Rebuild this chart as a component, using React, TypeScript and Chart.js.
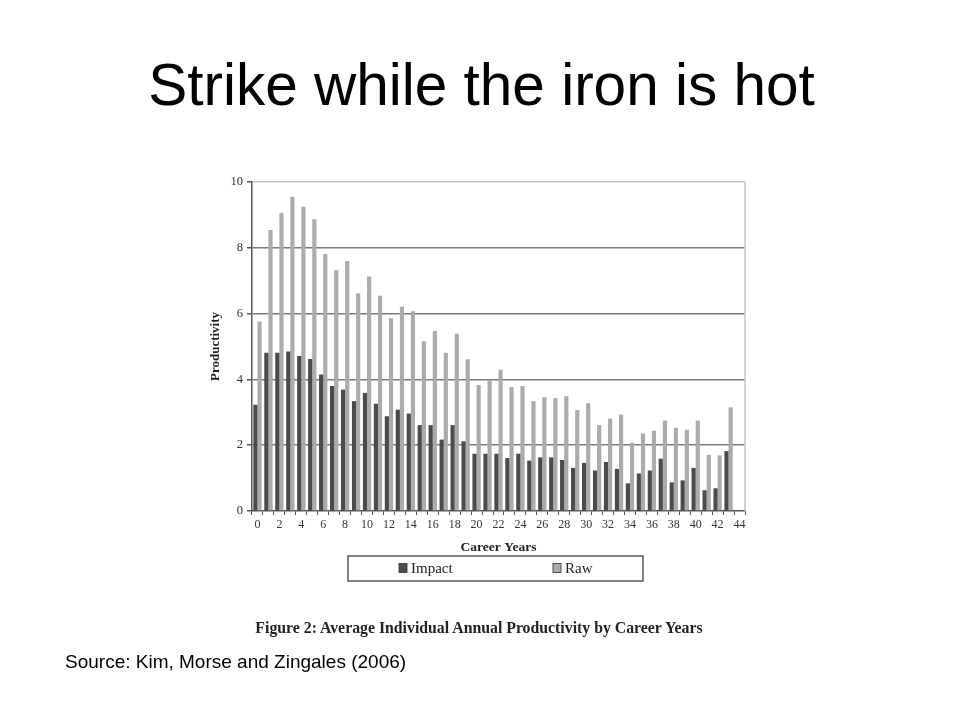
import React, { useEffect, useRef } from "react";
import { Chart, registerables } from "chart.js";

Chart.register(...registerables);

const careerYears = [
  "0", "1", "2", "3", "4", "5", "6", "7", "8", "9",
  "10", "11", "12", "13", "14", "15", "16", "17", "18", "19",
  "20", "21", "22", "23", "24", "25", "26", "27", "28", "29",
  "30", "31", "32", "33", "34", "35", "36", "37", "38", "39",
  "40", "41", "42", "43", "44",
];

const impactValues = [
  3.23, 4.81, 4.81, 4.85, 4.71, 4.62, 4.15, 3.8, 3.69, 3.34,
  3.59, 3.26, 2.88, 3.08, 2.96, 2.61, 2.61, 2.17, 2.61, 2.12,
  1.74, 1.74, 1.74, 1.61, 1.74, 1.53, 1.63, 1.63, 1.55, 1.31,
  1.46, 1.23, 1.49, 1.28, 0.84, 1.14, 1.23, 1.59, 0.87, 0.93,
  1.31, 0.63, 0.69, 1.82, null,
];

const rawValues = [
  5.76, 8.54, 9.06, 9.55, 9.25, 8.87, 7.81, 7.32, 7.6, 6.62,
  7.13, 6.54, 5.86, 6.21, 6.07, 5.16, 5.47, 4.81, 5.39, 4.61,
  3.83, 3.99, 4.29, 3.77, 3.8, 3.34, 3.46, 3.43, 3.49, 3.07,
  3.28, 2.61, 2.81, 2.93, 2.07, 2.36, 2.44, 2.75, 2.53, 2.47,
  2.75, 1.71, 1.69, 3.15, null,
];

const seriesNames = ["Impact", "Raw"];
const yTickValues = [0, 2, 4, 6, 8, 10];

const SERIF = "'Liberation Serif', 'DejaVu Serif', serif";
const SANS = "'Liberation Sans', Arial, sans-serif";

const frameAndLegend = {
  id: "frameAndLegend",
  afterDraw(chart: any) {
    const { ctx, chartArea } = chart;
    ctx.save();
    // right border
    ctx.strokeStyle = "#c4c4c4";
    ctx.lineWidth = 1.5;
    ctx.beginPath();
    ctx.moveTo(chartArea.right, chartArea.top);
    ctx.lineTo(chartArea.right, chartArea.bottom);
    ctx.stroke();

    // legend box
    const bx = chartArea.left + 96;
    const by = chartArea.bottom + 45;
    const bw = 295;
    const bh = 25;
    ctx.strokeStyle = "#5a5a5a";
    ctx.lineWidth = 1.5;
    ctx.strokeRect(bx, by, bw, bh);

    const offsets = [51, 205];
    ctx.font = `15px ${SERIF}`;
    ctx.textBaseline = "middle";
    ctx.textAlign = "left";
    chart.data.datasets.forEach((ds: any, i: number) => {
      const sx = bx + offsets[i];
      const sy = by + bh / 2 - 5;
      ctx.fillStyle = ds.backgroundColor;
      ctx.fillRect(sx, sy, 8, 9);
      ctx.strokeStyle = "#333";
      ctx.lineWidth = 0.8;
      ctx.strokeRect(sx, sy, 8, 9);
      ctx.fillStyle = "#222";
      ctx.fillText(ds.label, sx + 12, by + bh / 2 + 1);
    });
    ctx.restore();
  },
};

export default function App() {
  const canvasRef = useRef<HTMLCanvasElement | null>(null);

  useEffect(() => {
    if (!canvasRef.current) return;
    const chart = new Chart(canvasRef.current, {
      type: "bar",
      data: {
        labels: careerYears,
        datasets: [
          {
            label: seriesNames[0],
            data: impactValues,
            backgroundColor: "#4b4b4b",
            borderWidth: 0,
            categoryPercentage: 0.76,
            barPercentage: 1.0,
          },
          {
            label: seriesNames[1],
            data: rawValues,
            backgroundColor: "#ababab",
            borderWidth: 0,
            categoryPercentage: 0.76,
            barPercentage: 1.0,
          },
        ],
      },
      options: {
        animation: false,
        responsive: false,
        maintainAspectRatio: false,
        layout: { padding: { left: 208, right: 215, top: 182, bottom: 164 } },
        plugins: {
          legend: { display: false },
          tooltip: { enabled: false },
          title: { display: false },
        },
        scales: {
          x: {
            type: "category",
            offset: true,
            grid: {
              display: true,
              offset: true,
              drawOnChartArea: false,
              drawTicks: true,
              tickLength: 4,
              color: "#555",
            },
            border: { color: "#555", width: 1.5 },
            ticks: {
              autoSkip: false,
              maxRotation: 0,
              minRotation: 0,
              padding: 3,
              color: "#333",
              font: { family: SERIF, size: 12 },
              callback: (_v: any, i: number) => (i % 2 === 0 ? careerYears[i] : ""),
            },
            title: {
              display: true,
              text: "Career Years",
              color: "#222",
              font: { family: SERIF, size: 13.5, weight: "bold" },
              padding: { top: 0, bottom: 0 },
            },
            afterFit: (scale: any) => {
              scale.height = 45;
            },
          },
          y: {
            min: 0,
            max: 10,
            afterBuildTicks: (scale: any) => {
              scale.ticks = yTickValues.map((v) => ({ value: v }));
            },
            grid: {
              color: (c: any) =>
                c.tick && c.tick.value === 10
                  ? "#c4c4c4"
                  : c.tick && c.tick.value === 0
                  ? "rgba(0,0,0,0)"
                  : "#7a7a7a",
              lineWidth: 1.5,
              tickColor: "#555",
              tickLength: 5,
              drawTicks: true,
            },
            border: { color: "#555", width: 1.5 },
            ticks: {
              color: "#333",
              padding: 4,
              font: { family: SERIF, size: 12.5 },
            },
            title: {
              display: true,
              text: "Productivity",
              color: "#222",
              font: { family: SERIF, size: 13, weight: "bold" },
              padding: { top: 0, bottom: 2 },
            },
            afterFit: (scale: any) => {
              scale.width = 44;
            },
          },
        },
      },
      plugins: [frameAndLegend],
    } as any);
    return () => chart.destroy();
  }, []);

  return (
    <div
      style={{
        position: "absolute",
        left: 0,
        top: 0,
        width: 960,
        height: 720,
        background: "#fff",
        overflow: "hidden",
      }}
    >
      <div
        style={{
          position: "absolute",
          left: 0,
          width: 963,
          top: 50,
          textAlign: "center",
          fontFamily: SANS,
          fontSize: 58.5,
          lineHeight: "70px",
          color: "#000",
          whiteSpace: "nowrap",
        }}
      >
        Strike while the iron is hot
      </div>
      <canvas
        ref={canvasRef}
        width={960}
        height={720}
        style={{ position: "absolute", left: 0, top: 0, width: 960, height: 720 }}
      />
      <div
        style={{
          position: "absolute",
          left: 0,
          width: 958,
          top: 618,
          textAlign: "center",
          fontFamily: SERIF,
          fontWeight: "bold",
          fontSize: 15.8,
          lineHeight: "20px",
          color: "#222",
          whiteSpace: "nowrap",
        }}
      >
        Figure 2: Average Individual Annual Productivity by Career Years
      </div>
      <div
        style={{
          position: "absolute",
          left: 65,
          top: 650,
          fontFamily: SANS,
          fontSize: 19,
          lineHeight: "24px",
          color: "#000",
          whiteSpace: "nowrap",
        }}
      >
        Source: Kim, Morse and Zingales (2006)
      </div>
    </div>
  );
}
